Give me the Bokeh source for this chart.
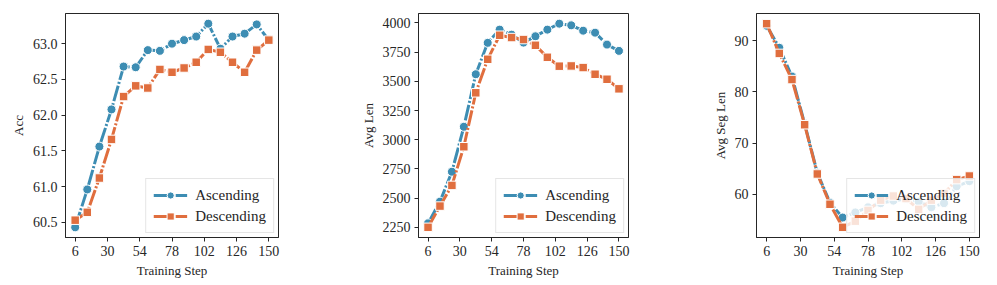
from bokeh.plotting import figure
from bokeh.layouts import row
from bokeh.models import Range1d, FixedTicker, NumeralTickFormatter, Legend, LegendItem
from bokeh.embed import file_html
from bokeh.resources import INLINE

# ---------------- data ----------------
steps = [6, 15, 24, 33, 42, 51, 60, 69, 78, 87, 96, 105, 114, 123, 132, 141, 150]

acc_asc = [60.43, 60.96, 61.56, 62.08, 62.68, 62.67, 62.91, 62.90, 63.00, 63.05,
           63.10, 63.28, 62.93, 63.10, 63.14, 63.27, 63.05]
acc_desc = [60.53, 60.64, 61.12, 61.66, 62.26, 62.41, 62.38, 62.64, 62.60, 62.66,
            62.74, 62.92, 62.88, 62.74, 62.60, 62.91, 63.05]

len_asc = [2284, 2470, 2726, 3111, 3561, 3830, 3943, 3900, 3832, 3886,
           3943, 3994, 3980, 3934, 3917, 3815, 3761]
len_desc = [2250, 2432, 2609, 2940, 3402, 3689, 3895, 3875, 3858, 3809,
            3706, 3630, 3632, 3618, 3561, 3518, 3436]

seg_asc = [92.9, 88.6, 83.0, 73.8, 64.2, 58.4, 55.5, 56.5, 57.5, 58.3,
           58.8, 59.1, 58.6, 57.5, 58.3, 61.6, 62.6]
seg_desc = [93.3, 87.5, 82.4, 73.6, 64.0, 58.1, 53.6, 54.8, 56.9, 58.9,
            59.7, 59.2, 57.1, 58.9, 60.2, 62.9, 63.6]

series_labels = ["Ascending", "Descending"]
x_label = "Training Step"
x_ticks = [6, 30, 54, 78, 102, 126, 150]
acc_ticks = [60.5, 61.0, 61.5, 62.0, 62.5, 63.0]
len_ticks = [2250, 2500, 2750, 3000, 3250, 3500, 3750, 4000]
seg_ticks = [60, 70, 80, 90]

# ---------------- style ----------------
BLUE = "#3d8db3"
ORANGE = "#e06e3e"
FONT = "Liberation Serif"
TXT = "#262626"


def padded(vals, frac=0.05):
    lo, hi = min(vals), max(vals)
    pad = (hi - lo) * frac
    return Range1d(lo - pad, hi + pad)


def make_panel(asc, desc, ylabel, yticks, fmt, left, frame_w, right):
    p = figure(frame_width=frame_w, frame_height=224,
               min_border_left=left, min_border_right=right,
               min_border_top=13, min_border_bottom=40,
               output_backend="svg", toolbar_location=None,
               x_range=padded(steps), y_range=padded(asc + desc))
    p.background_fill_color = "white"
    p.border_fill_color = "white"
    p.outline_line_color = TXT
    p.outline_line_width = 1
    p.xgrid.visible = False
    p.ygrid.visible = False

    p.xaxis.ticker = FixedTicker(ticks=x_ticks)
    p.yaxis.ticker = FixedTicker(ticks=yticks)
    p.yaxis.formatter = NumeralTickFormatter(format=fmt)
    p.xaxis.axis_label = x_label
    p.yaxis.axis_label = ylabel
    for ax in (p.xaxis[0], p.yaxis[0]):
        ax.axis_line_color = TXT
        ax.major_tick_line_color = TXT
        ax.major_tick_out = 4
        ax.major_tick_in = 0
        ax.minor_tick_line_color = None
        ax.major_label_text_font = FONT
        ax.major_label_text_font_size = "14px"
        ax.major_label_text_font_style = "normal"
        ax.major_label_text_color = TXT
        ax.axis_label_text_font = FONT
        ax.axis_label_text_font_size = "13px"
        ax.axis_label_text_font_style = "normal"
        ax.axis_label_text_color = TXT
        ax.major_label_standoff = 4
        ax.axis_label_standoff = 4

    dash = "16 2 2 2"
    l1 = p.line(steps, asc, line_color=BLUE, line_width=3, line_dash=dash)
    s1 = p.scatter(steps, asc, marker="circle", size=9, fill_color=BLUE,
                   line_color="white", line_width=1)
    l2 = p.line(steps, desc, line_color=ORANGE, line_width=3, line_dash=dash)
    s2 = p.scatter(steps, desc, marker="square", size=8.5, fill_color=ORANGE,
                   line_color="white", line_width=1)

    legend = Legend(items=[LegendItem(label=series_labels[0], renderers=[l1, s1]),
                           LegendItem(label=series_labels[1], renderers=[l2, s2])],
                    location="bottom_right")
    legend.label_text_font = FONT
    legend.label_text_font_size = "15px"
    legend.label_text_color = TXT
    legend.glyph_width = 34
    legend.glyph_height = 18
    legend.label_height = 18
    legend.label_standoff = 8
    legend.spacing = 3
    legend.padding = 7
    legend.margin = 4
    legend.border_line_color = "#cccccc"
    legend.border_line_width = 1
    legend.background_fill_color = "white"
    legend.background_fill_alpha = 0.8
    p.add_layout(legend, "center")
    return p


p1 = make_panel(acc_asc, acc_desc, "Acc", acc_ticks, "0.0", 65, 213, 20)
p2 = make_panel(len_asc, len_desc, "Avg Len", len_ticks, "0", 120, 210, 10)
p3 = make_panel(seg_asc, seg_desc, "Avg Seg Len", seg_ticks, "0", 118, 223, 10)

layout = row(p1, p2, p3)
open("out.html", "w").write(file_html(layout, INLINE))
